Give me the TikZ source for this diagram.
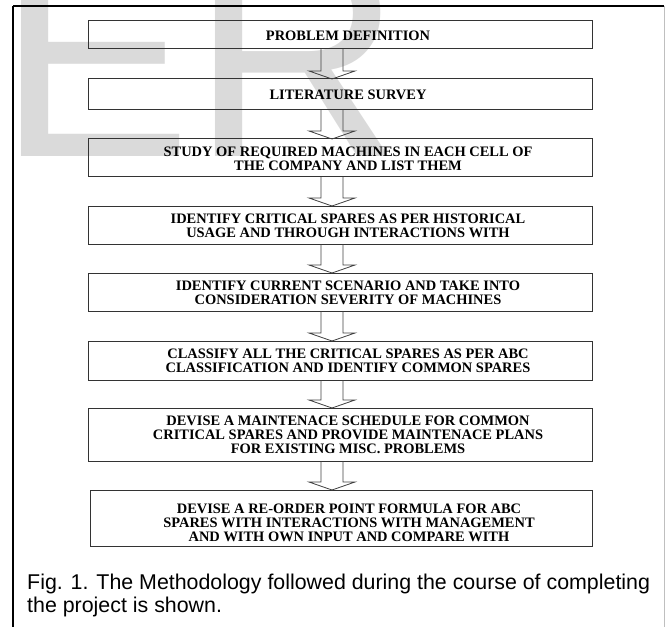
\documentclass[tikz,border=0pt]{standalone}
\usepackage{fontspec}
\setmainfont{Liberation Serif}
\newfontfamily\capfont{Liberation Sans}
\definecolor{wmgray}{HTML}{DADADA}
\begin{document}
\begin{tikzpicture}[x=1bp,y=-1bp,
  stepbox/.style={draw=black!80, line width=1bp},
  steptext/.style={align=center, inner sep=0pt, font=\fontsize{14.5}{14}\selectfont\bfseries},
  fatarrow/.style={draw=black!75, line width=0.8bp, line join=miter}]
\useasboundingbox (0,0) rectangle (665,627);
% watermark
\begin{scope}
\clip (0,0) rectangle (665,627);
\node[anchor=base west, inner sep=0pt, text=wmgray, font=\capfont\fontsize{293}{293}\selectfont] (wm) at (-3,157) {ER};
\end{scope}
% frame
\draw[line width=1.6bp] (13,6) -- (664,6);
\draw[line width=1.3bp] (13,6) -- (13,627);
\draw[black!25, line width=0.8bp] (664,6) -- (664,627);
% boxes
\foreach \n/\t/\b/\l in {1/21/49/88, 2/79/110/88, 3/139/177/88, 4/206/244/88, 5/273/311/88, 6/341/380/88, 7/408/461/88, 8/490/546/90}{
  \draw[stepbox] (\l,\t) rectangle (592,\b);
  \coordinate (t\n) at (332,\t);
  \coordinate (b\n) at (332,\b);
}
\node[steptext] (n1) at (348,35.5) {PROBLEM DEFINITION};
\node[steptext] (n2) at (348,95) {LITERATURE SURVEY};
\node[steptext] (n3) at (348,158.5) {STUDY OF REQUIRED MACHINES IN EACH CELL OF\\THE COMPANY AND LIST THEM};
\node[steptext] (n4) at (348,225.5) {IDENTIFY CRITICAL SPARES AS PER HISTORICAL\\USAGE AND THROUGH INTERACTIONS WITH};
\node[steptext] (n5) at (348,292.5) {IDENTIFY CURRENT SCENARIO AND TAKE INTO\\CONSIDERATION SEVERITY OF MACHINES};
\node[steptext] (n6) at (348,361) {CLASSIFY ALL THE CRITICAL SPARES AS PER ABC\\CLASSIFICATION AND IDENTIFY COMMON SPARES};
\node[steptext] (n7) at (348,435) {DEVISE A MAINTENACE SCHEDULE FOR COMMON\\CRITICAL SPARES AND PROVIDE MAINTENACE PLANS\\FOR EXISTING MISC. PROBLEMS};
\node[steptext] (n8) at (349,522.5) {DEVISE A RE-ORDER POINT FORMULA FOR ABC\\SPARES WITH INTERACTIONS WITH MANAGEMENT\\AND WITH OWN INPUT AND COMPARE WITH};
% block arrows
\foreach \a/\c in {1/2,2/3,3/4,4/5,5/6,6/7,7/8}{
  \draw[fatarrow] ([xshift=-11bp]b\a) -- ([xshift=-11bp,yshift=8bp]t\c) -- ([xshift=-23bp,yshift=8bp]t\c)
    -- (t\c) -- ([xshift=23bp,yshift=8bp]t\c) -- ([xshift=11bp,yshift=8bp]t\c) -- ([xshift=11bp]b\a);
}
% caption
\node[anchor=base west, align=left, inner sep=0pt, font=\capfont\fontsize{21.45}{23}\selectfont] (cap) at (27,612)
  {Fig. 1. The Methodology followed during the course of completing\\the project is shown.};
\end{tikzpicture}
\end{document}
